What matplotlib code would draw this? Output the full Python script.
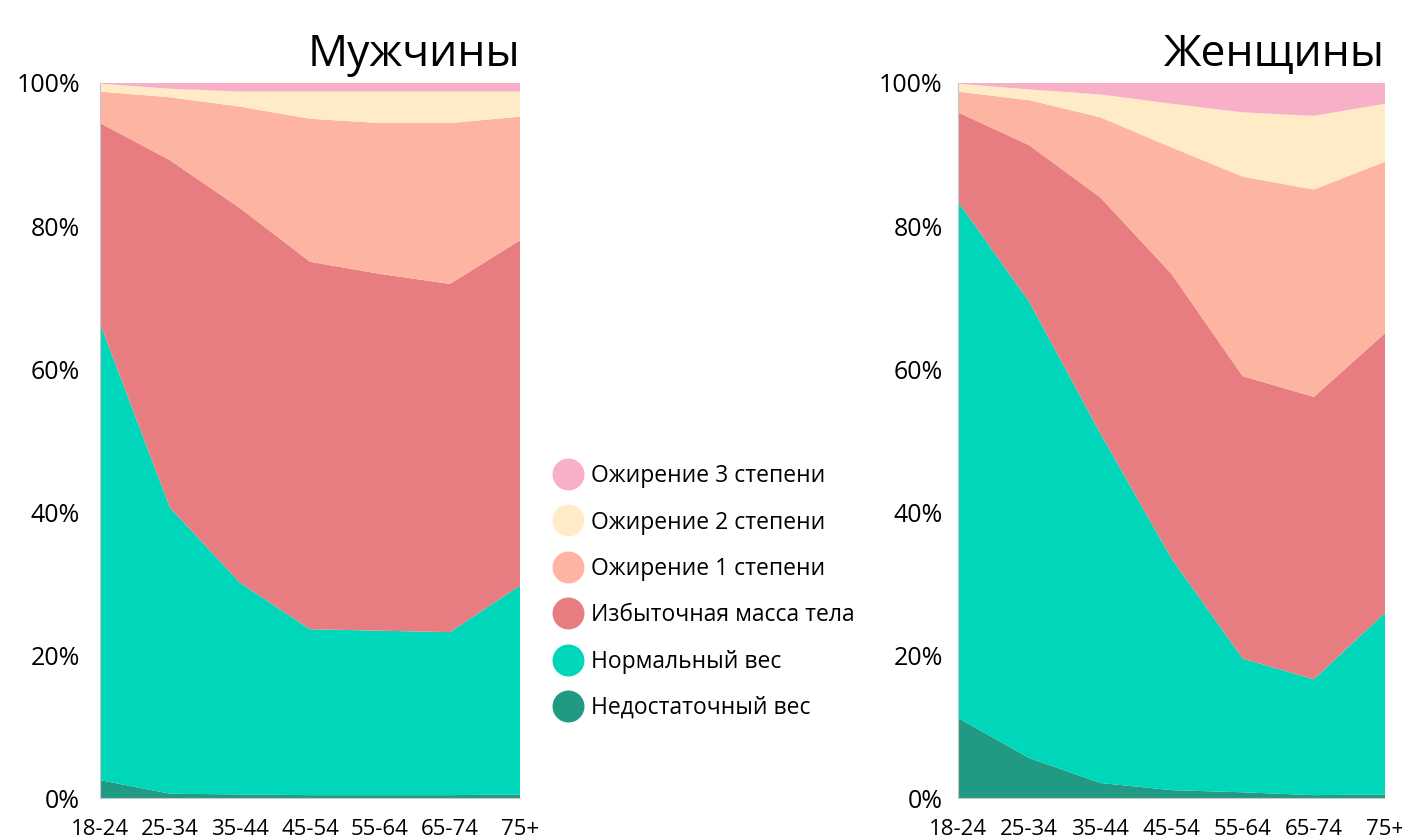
import numpy as np
import matplotlib.pyplot as plt
from matplotlib.lines import Line2D
from matplotlib.ticker import FuncFormatter

plt.rcParams['font.family'] = ['Open Sans', 'DejaVu Sans']

# age groups
ages = ['18-24', '25-34', '35-44', '45-54', '55-64', '65-74', '75+']

# men, % of each age group
men_under = [2.5, 0.6, 0.5, 0.4, 0.4, 0.4, 0.5]
men_normal = [63.9, 40.0, 29.6, 23.2, 23.0, 22.8, 29.2]
men_over = [28.0, 48.6, 52.4, 51.4, 49.9, 48.7, 48.3]
men_ob1 = [4.4, 8.8, 14.2, 20.0, 21.1, 22.5, 17.3]
men_ob2 = [1.1, 1.2, 2.1, 3.8, 4.4, 4.4, 3.5]
men_ob3 = [0.1, 0.8, 1.2, 1.2, 1.2, 1.2, 1.2]

# women, % of each age group
women_under = [11.2, 5.6, 2.1, 1.1, 0.8, 0.4, 0.5]
women_normal = [72.2, 63.8, 48.9, 32.4, 18.7, 16.2, 25.4]
women_over = [12.5, 21.9, 33.0, 39.8, 39.5, 39.5, 39.1]
women_ob1 = [2.9, 6.3, 11.2, 17.7, 27.9, 29.0, 24.0]
women_ob2 = [1.1, 1.5, 3.2, 6.1, 9.0, 10.3, 8.1]
women_ob3 = [0.1, 0.9, 1.6, 2.9, 4.1, 4.6, 2.9]

labels = ['Недостаточный вес', 'Нормальный вес', 'Избыточная масса тела',
          'Ожирение 1 степени', 'Ожирение 2 степени', 'Ожирение 3 степени']
colors = ['#219a83', '#00d6b9', '#e77d80', '#fdb4a0', '#ffecc7', '#f8afc8']

fig = plt.figure(figsize=(14.02, 8.38), dpi=100)
ax1 = fig.add_axes([100 / 1402, 1 - 798 / 838, 420 / 1402, 715 / 838])
ax2 = fig.add_axes([958 / 1402, 1 - 798 / 838, 427 / 1402, 715 / 838])

x = np.arange(len(ages))
men = [men_under, men_normal, men_over, men_ob1, men_ob2, men_ob3]
women = [women_under, women_normal, women_over, women_ob1, women_ob2, women_ob3]

for ax, data, title, pad in [(ax1, men, 'Мужчины', 14.5), (ax2, women, 'Женщины', 11)]:
    ax.stackplot(x, *data, colors=colors, linewidth=0)
    ax.set_xlim(0, 6)
    ax.set_ylim(0, 100)
    ax.set_xticks(x)
    ax.set_xticklabels(ages, fontsize=16)
    ax.set_yticks([0, 20, 40, 60, 80, 100])
    ax.yaxis.set_major_formatter(FuncFormatter(lambda v, p: '%d%%' % v))
    ax.tick_params(axis='y', labelsize=18, length=0, pad=pad)
    ax.tick_params(axis='x', length=0, pad=15)
    for s in ['top', 'right']:
        ax.spines[s].set_visible(False)
    for s in ['left', 'bottom']:
        ax.spines[s].set_color('#c8c8c8')
        ax.spines[s].set_linewidth(0.8)
    ax.text(1.0, 1.0238, title, transform=ax.transAxes, ha='right', va='baseline', fontsize=32)

handles = [Line2D([], [], marker='o', linestyle='none', markersize=22,
                  markerfacecolor=c, markeredgecolor=c) for c in colors[::-1]]
fig.legend(handles, labels[::-1], loc='upper left', bbox_to_anchor=(543 / 1402, 1 - 455 / 838),
           frameon=False, fontsize=16.5, labelspacing=0.975, handletextpad=0.3,
           borderaxespad=0, handlelength=1.4)

fig.savefig('out.png', dpi=100)
